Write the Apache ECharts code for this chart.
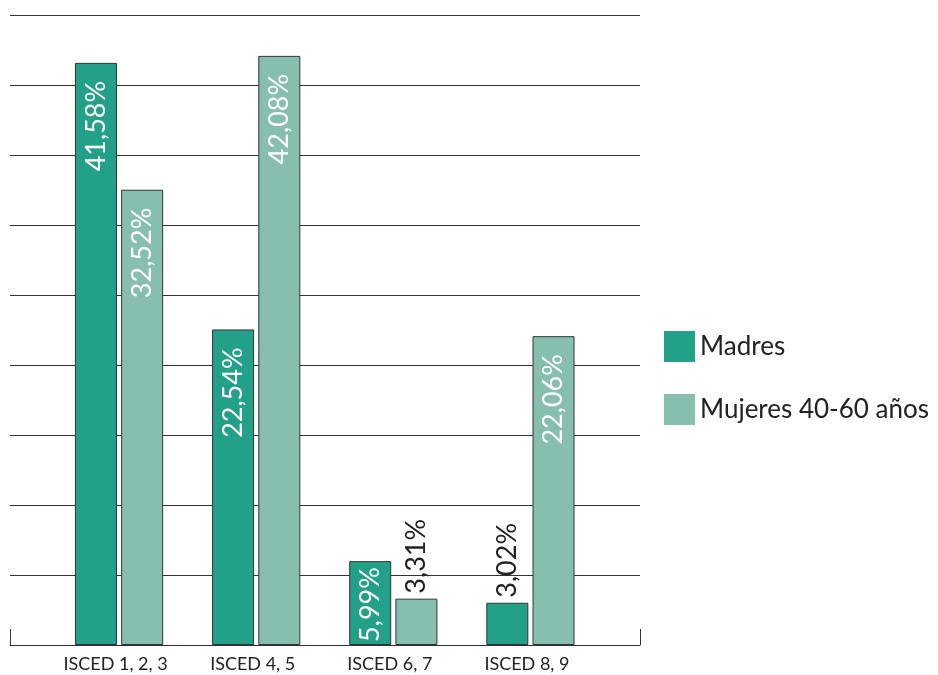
<!DOCTYPE html>
<html>
<head>
<meta charset="utf-8">
<script src="https://cdn.jsdelivr.net/npm/echarts@6/dist/echarts.min.js"></script>
<style>
  html, body { margin: 0; padding: 0; background: #fff; }
  #chart { width: 938px; height: 675px; }
</style>
</head>
<body>
<div id="chart"></div>
<script>
// Education level distribution (ISCED groups)
const categories = ['ISCED 1, 2, 3', 'ISCED 4, 5', 'ISCED 6, 7', 'ISCED 8, 9'];
const seriesNames = ['Madres', 'Mujeres 40-60 años'];
const madres = [41.58, 22.54, 5.99, 3.02];
const mujeres = [32.52, 42.08, 3.31, 22.06];
const yMax = 45;
const yStep = 5;

const FONT = 'Lato, "Open Sans", sans-serif';
const colors = ['#22a088', '#86bfae'];

function fmt(v) {
  return v.toFixed(2).replace('.', ',') + '%';
}

// Tall bars carry their value inside (white), short ones above (dark).
function buildData(values) {
  return values.map(function (v) {
    if (v >= 5) {
      return {
        value: v,
        label: {
          position: ['50%', v > 10 ? 18 : 6],
          rotate: 90,
          align: 'right',
          verticalAlign: 'middle',
          color: '#fff'
        }
      };
    }
    return {
      value: v,
      label: {
        position: ['50%', -5],
        rotate: 90,
        align: 'left',
        verticalAlign: 'middle',
        color: '#222'
      }
    };
  });
}

const chart = echarts.init(document.getElementById('chart'), null, { renderer: 'canvas' });

const yCommon = {
  type: 'value',
  min: 0,
  max: yMax,
  interval: yStep,
  axisLine: { show: false },
  axisTick: { show: false },
  axisLabel: { show: false }
};

chart.setOption({
  animation: false,
  backgroundColor: '#fff',
  grid: [
    { left: 10, right: 298, top: 15, bottom: 30 },
    { left: 50.5, right: 339, top: 15, bottom: 30 }
  ],
  legend: {
    orient: 'vertical',
    left: 664,
    top: 331,
    padding: 0,
    itemWidth: 31,
    itemHeight: 31,
    itemGap: 32,
    icon: 'rect',
    itemStyle: { borderWidth: 0 },
    textStyle: { fontFamily: FONT, fontSize: 26, color: '#222' },
    data: seriesNames
  },
  xAxis: [
    {
      // frame axis: baseline with end ticks
      type: 'value',
      gridIndex: 0,
      min: 0,
      max: 1,
      interval: 1,
      axisLine: { show: true, lineStyle: { color: '#333', width: 1 } },
      axisTick: { show: true, inside: true, length: 16, lineStyle: { color: '#333', width: 1 } },
      axisLabel: { show: false },
      splitLine: { show: false }
    },
    {
      type: 'category',
      gridIndex: 1,
      data: categories,
      axisLine: { show: false },
      axisTick: { show: false },
      axisLabel: {
        fontFamily: FONT,
        fontSize: 18,
        color: '#222',
        margin: 10,
        padding: [0, 7, 0, 0]
      }
    }
  ],
  yAxis: [
    Object.assign({}, yCommon, {
      gridIndex: 0,
      splitLine: { show: true, lineStyle: { color: '#333', width: 1 } }
    }),
    Object.assign({}, yCommon, {
      gridIndex: 1,
      splitLine: { show: false }
    })
  ],
  series: [
    {
      name: seriesNames[0],
      type: 'bar',
      xAxisIndex: 1,
      yAxisIndex: 1,
      barWidth: 42,
      barGap: '10%',
      itemStyle: { color: colors[0], borderColor: '#333', borderWidth: 1 },
      label: {
        show: true,
        fontFamily: FONT,
        fontSize: 27,
        formatter: function (p) { return fmt(p.value); }
      },
      data: buildData(madres)
    },
    {
      name: seriesNames[1],
      type: 'bar',
      xAxisIndex: 1,
      yAxisIndex: 1,
      barWidth: 42,
      barGap: '10%',
      itemStyle: { color: colors[1], borderColor: '#333', borderWidth: 1 },
      label: {
        show: true,
        fontFamily: FONT,
        fontSize: 27,
        formatter: function (p) { return fmt(p.value); }
      },
      data: buildData(mujeres)
    }
  ]
});
</script>
</body>
</html>
